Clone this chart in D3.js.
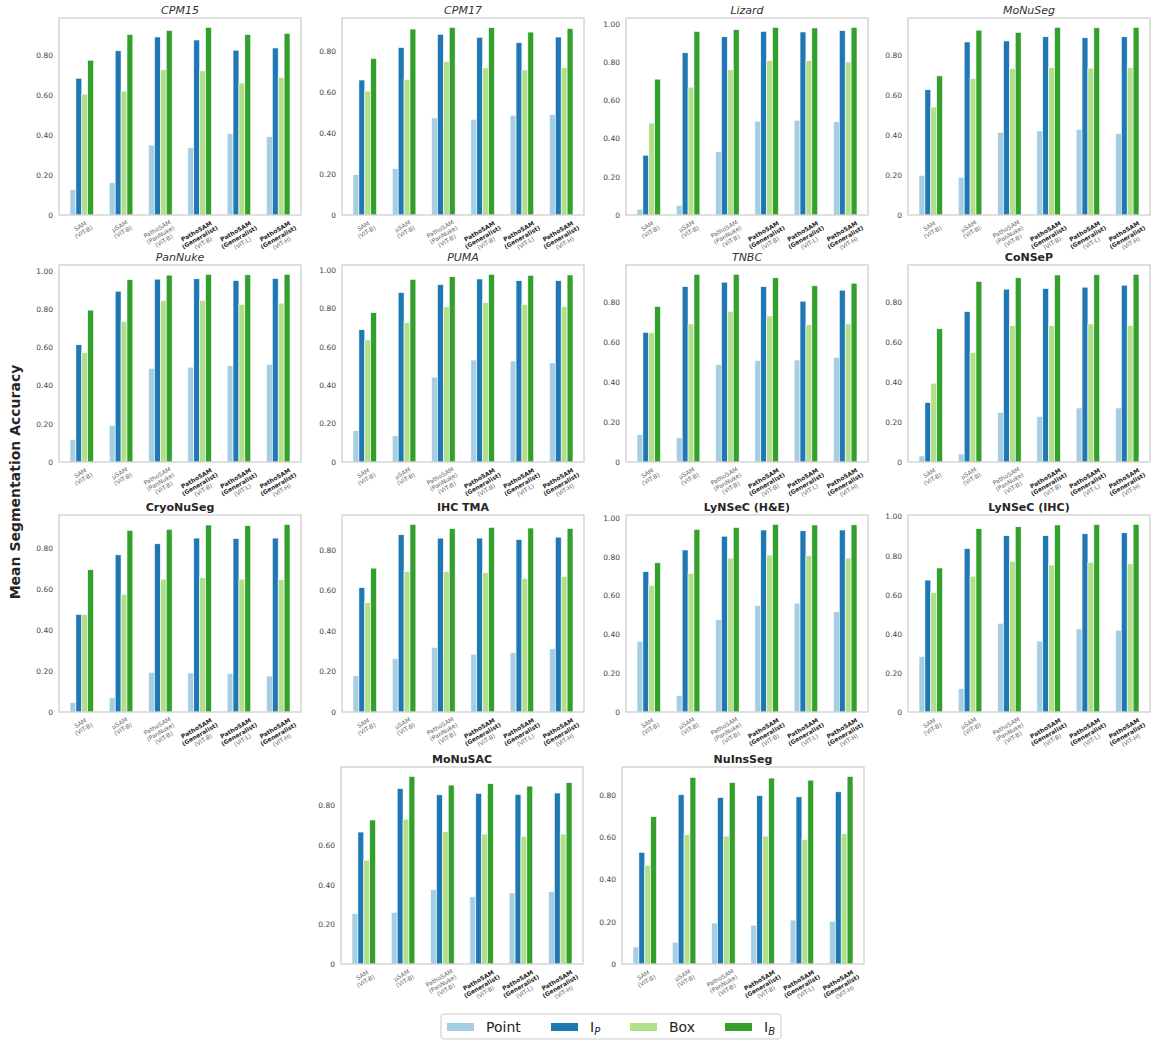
<!DOCTYPE html>
<html lang="en">
<head>
<meta charset="utf-8" />
<title>PathoSAM segmentation accuracy</title>
<script src="https://cdn.jsdelivr.net/npm/d3@7"></script>
<style>
  body { margin: 0; background: #fff; }
  text { font-family: "DejaVu Sans", sans-serif; }
</style>
</head>
<body>
<script>
// datasets, in panel order
var datasets = ["CPM15", "CPM17", "Lizard", "MoNuSeg", "PanNuke", "PUMA", "TNBC",
  "CoNSeP", "CryoNuSeg", "IHC TMA", "LyNSeC (H&E)", "LyNSeC (IHC)", "MoNuSAC", "NuInsSeg"];
var italicTitles = ["CPM15", "CPM17", "Lizard", "MoNuSeg", "PanNuke", "PUMA", "TNBC"];

// models on the x axis (label lines)
var models = [
  ["SAM", "(ViT-B)"],
  ["µSAM", "(ViT-B)"],
  ["PathoSAM", "(PanNuke)", "(ViT-B)"],
  ["PathoSAM", "(Generalist)", "(ViT-B)"],
  ["PathoSAM", "(Generalist)", "(ViT-L)"],
  ["PathoSAM", "(Generalist)", "(ViT-H)"]
];
var boldModels = [3, 4, 5];

var seriesNames = ["Point", "IP", "Box", "IB"];

// one row per dataset, one value per model
var pointVals = [
  [0.126, 0.161, 0.349, 0.337, 0.406, 0.391],
  [0.197, 0.226, 0.474, 0.467, 0.487, 0.490],
  [0.030, 0.051, 0.331, 0.491, 0.496, 0.489],
  [0.199, 0.189, 0.414, 0.421, 0.429, 0.408],
  [0.118, 0.192, 0.490, 0.496, 0.503, 0.510],
  [0.163, 0.136, 0.442, 0.531, 0.526, 0.516],
  [0.136, 0.121, 0.487, 0.508, 0.510, 0.523],
  [0.030, 0.040, 0.248, 0.228, 0.270, 0.270],
  [0.046, 0.069, 0.194, 0.191, 0.189, 0.176],
  [0.179, 0.264, 0.319, 0.285, 0.294, 0.312],
  [0.365, 0.085, 0.476, 0.549, 0.561, 0.517],
  [0.284, 0.120, 0.454, 0.363, 0.425, 0.418],
  [0.254, 0.261, 0.375, 0.339, 0.359, 0.366],
  [0.081, 0.103, 0.194, 0.184, 0.208, 0.203]
];
var ipVals = [
  [0.683, 0.820, 0.889, 0.874, 0.823, 0.834],
  [0.659, 0.818, 0.882, 0.867, 0.841, 0.869],
  [0.313, 0.849, 0.933, 0.961, 0.958, 0.965],
  [0.628, 0.867, 0.872, 0.893, 0.888, 0.893],
  [0.613, 0.893, 0.956, 0.958, 0.949, 0.960],
  [0.689, 0.883, 0.923, 0.953, 0.944, 0.944],
  [0.648, 0.877, 0.899, 0.877, 0.804, 0.859],
  [0.297, 0.752, 0.864, 0.867, 0.874, 0.884],
  [0.477, 0.769, 0.823, 0.851, 0.849, 0.851],
  [0.614, 0.875, 0.858, 0.858, 0.851, 0.863],
  [0.724, 0.835, 0.906, 0.938, 0.934, 0.938],
  [0.675, 0.836, 0.902, 0.902, 0.912, 0.917],
  [0.666, 0.885, 0.854, 0.861, 0.856, 0.863],
  [0.529, 0.802, 0.789, 0.798, 0.792, 0.816]
];
var boxVals = [
  [0.604, 0.619, 0.726, 0.720, 0.659, 0.688],
  [0.605, 0.662, 0.748, 0.718, 0.708, 0.720],
  [0.481, 0.669, 0.760, 0.808, 0.808, 0.801],
  [0.541, 0.684, 0.733, 0.738, 0.736, 0.739],
  [0.571, 0.735, 0.844, 0.845, 0.824, 0.831],
  [0.636, 0.726, 0.808, 0.830, 0.820, 0.810],
  [0.646, 0.690, 0.753, 0.730, 0.686, 0.690],
  [0.394, 0.547, 0.681, 0.681, 0.690, 0.683],
  [0.477, 0.576, 0.650, 0.657, 0.650, 0.647],
  [0.539, 0.694, 0.694, 0.687, 0.659, 0.669],
  [0.653, 0.714, 0.793, 0.809, 0.807, 0.793],
  [0.611, 0.695, 0.771, 0.752, 0.766, 0.759],
  [0.524, 0.731, 0.668, 0.656, 0.644, 0.656],
  [0.468, 0.613, 0.606, 0.606, 0.590, 0.617]
];
var ibVals = [
  [0.773, 0.901, 0.922, 0.937, 0.901, 0.907],
  [0.764, 0.908, 0.916, 0.915, 0.893, 0.910],
  [0.711, 0.961, 0.970, 0.982, 0.979, 0.982],
  [0.697, 0.926, 0.915, 0.940, 0.938, 0.940],
  [0.794, 0.954, 0.977, 0.981, 0.979, 0.981],
  [0.778, 0.951, 0.965, 0.977, 0.972, 0.974],
  [0.777, 0.938, 0.938, 0.921, 0.881, 0.894],
  [0.666, 0.903, 0.921, 0.935, 0.936, 0.938],
  [0.696, 0.889, 0.894, 0.915, 0.912, 0.918],
  [0.710, 0.926, 0.905, 0.911, 0.908, 0.906],
  [0.769, 0.941, 0.951, 0.967, 0.964, 0.965],
  [0.737, 0.938, 0.948, 0.957, 0.959, 0.960],
  [0.727, 0.947, 0.903, 0.910, 0.898, 0.915],
  [0.698, 0.884, 0.860, 0.881, 0.871, 0.889]
];
var allSeries = [pointVals, ipVals, boxVals, ibVals];
var colors = ["#a6cee3", "#1f78b4", "#b2df8a", "#33a02c"];

// layout
var w = 1152, h = 1040;
var pw = 242, ph = 197;
var panelPos = [
  [59, 18], [342, 18], [626, 18], [908, 18],
  [59, 265], [342, 265], [626, 265], [908, 265],
  [59, 515], [342, 515], [626, 515], [908, 515],
  [341, 767], [622, 767]
];
var barW = 0.15;

var svg = d3.select("body").append("svg")
  .attr("width", w)
  .attr("height", h);
svg.append("rect").attr("width", w).attr("height", h).attr("fill", "#fff");

var xScale = d3.scaleLinear().domain([-0.58, 5.58]).range([0, pw]);
var offsets = d3.range(4).map(function(k) { return (k - 1.5) * barW; });

datasets.forEach(function(name, di) {
  var g = svg.append("g")
    .attr("transform", "translate(" + panelPos[di][0] + "," + panelPos[di][1] + ")");

  var vmax = d3.max(allSeries, function(s) { return d3.max(s[di]); });
  var yScale = d3.scaleLinear().domain([0, vmax * 1.05]).range([ph, 0]);

  //Bars
  allSeries.forEach(function(s, k) {
    g.append("g").selectAll("rect")
      .data(s[di])
      .enter()
      .append("rect")
      .attr("x", function(d, i) { return xScale(i + offsets[k] - barW / 2); })
      .attr("width", xScale(barW) - xScale(0))
      .attr("y", function(d) { return yScale(d); })
      .attr("height", function(d) { return ph - yScale(d); })
      .attr("fill", colors[k])
      .attr("stroke", "#fff")
      .attr("stroke-width", 0.6);
  });

  //Frame
  g.append("rect")
    .attr("width", pw).attr("height", ph)
    .attr("fill", "none")
    .attr("stroke", "#cccccc")
    .attr("stroke-width", 1.2);

  //Y axis
  var yAxis = d3.axisLeft(yScale)
    .ticks(5)
    .tickSize(0)
    .tickPadding(6)
    .tickFormat(function(d) { return d === 0 ? "0" : d3.format(".2f")(d); });
  var ya = g.append("g").call(yAxis);
  ya.select(".domain").remove();
  ya.selectAll("text")
    .attr("fill", "#444")
    .style("font-size", "7.5px")
    .style("font-family", "DejaVu Sans, sans-serif");

  //X tick labels
  models.forEach(function(lines, i) {
    var outer = g.append("g")
      .attr("transform", "translate(" + xScale(i) + "," + (ph + 3) + ")");
    var inner = outer.append("g");
    var lh = 6.8;
    var maxW = 0;
    lines.forEach(function(line, j) {
      var isBold = boldModels.indexOf(i) >= 0 && j < 2;
      var t = inner.append("text")
        .attr("x", 0)
        .attr("y", (j - (lines.length - 1) / 2) * lh)
        .attr("text-anchor", "middle")
        .attr("dominant-baseline", "central")
        .attr("fill", isBold ? "#262626" : "#666")
        .style("font-size", "6px")
        .style("font-weight", isBold ? "bold" : "normal")
        .text(line);
      maxW = Math.max(maxW, t.node().getComputedTextLength());
    });
    var bh = lines.length * lh;
    var a = 30 * Math.PI / 180;
    var rotH = maxW * Math.sin(a) + bh * Math.cos(a);
    inner.attr("transform", "translate(0," + (rotH / 2) + ") rotate(-30)");
  });

  //Title
  var isItalic = italicTitles.indexOf(name) >= 0;
  g.append("text")
    .attr("x", pw / 2)
    .attr("y", -4)
    .attr("text-anchor", "middle")
    .attr("fill", isItalic ? "#333" : "#262626")
    .style("font-size", "11px")
    .style("font-style", isItalic ? "italic" : "normal")
    .style("font-weight", isItalic ? "400" : "bold")
    .text(name);
});

//Y label
svg.append("text")
  .attr("transform", "translate(20,482) rotate(-90)")
  .attr("text-anchor", "middle")
  .attr("fill", "#262626")
  .style("font-size", "14px")
  .style("font-weight", "bold")
  .text("Mean Segmentation Accuracy");

//Legend
var legend = svg.append("g").attr("transform", "translate(441,1014)");
legend.append("rect")
  .attr("width", 340).attr("height", 25)
  .attr("rx", 3)
  .attr("fill", "#fff")
  .attr("stroke", "#cccccc")
  .attr("stroke-width", 1);
var legendX = [6, 110, 189, 284];
seriesNames.forEach(function(s, k) {
  var lg = legend.append("g").attr("transform", "translate(" + legendX[k] + ",0)");
  lg.append("rect")
    .attr("x", 0).attr("y", 9)
    .attr("width", 27).attr("height", 8)
    .attr("fill", colors[k]);
  var t = lg.append("text")
    .attr("x", 39).attr("y", 18)
    .attr("fill", "#262626")
    .style("font-size", "14px");
  if (s === "IP" || s === "IB") {
    t.append("tspan").text("I");
    t.append("tspan")
      .attr("dy", 3)
      .style("font-size", "10px")
      .style("font-style", "italic")
      .text(s.charAt(1));
  } else {
    t.text(s);
  }
});
</script>
</body>
</html>
